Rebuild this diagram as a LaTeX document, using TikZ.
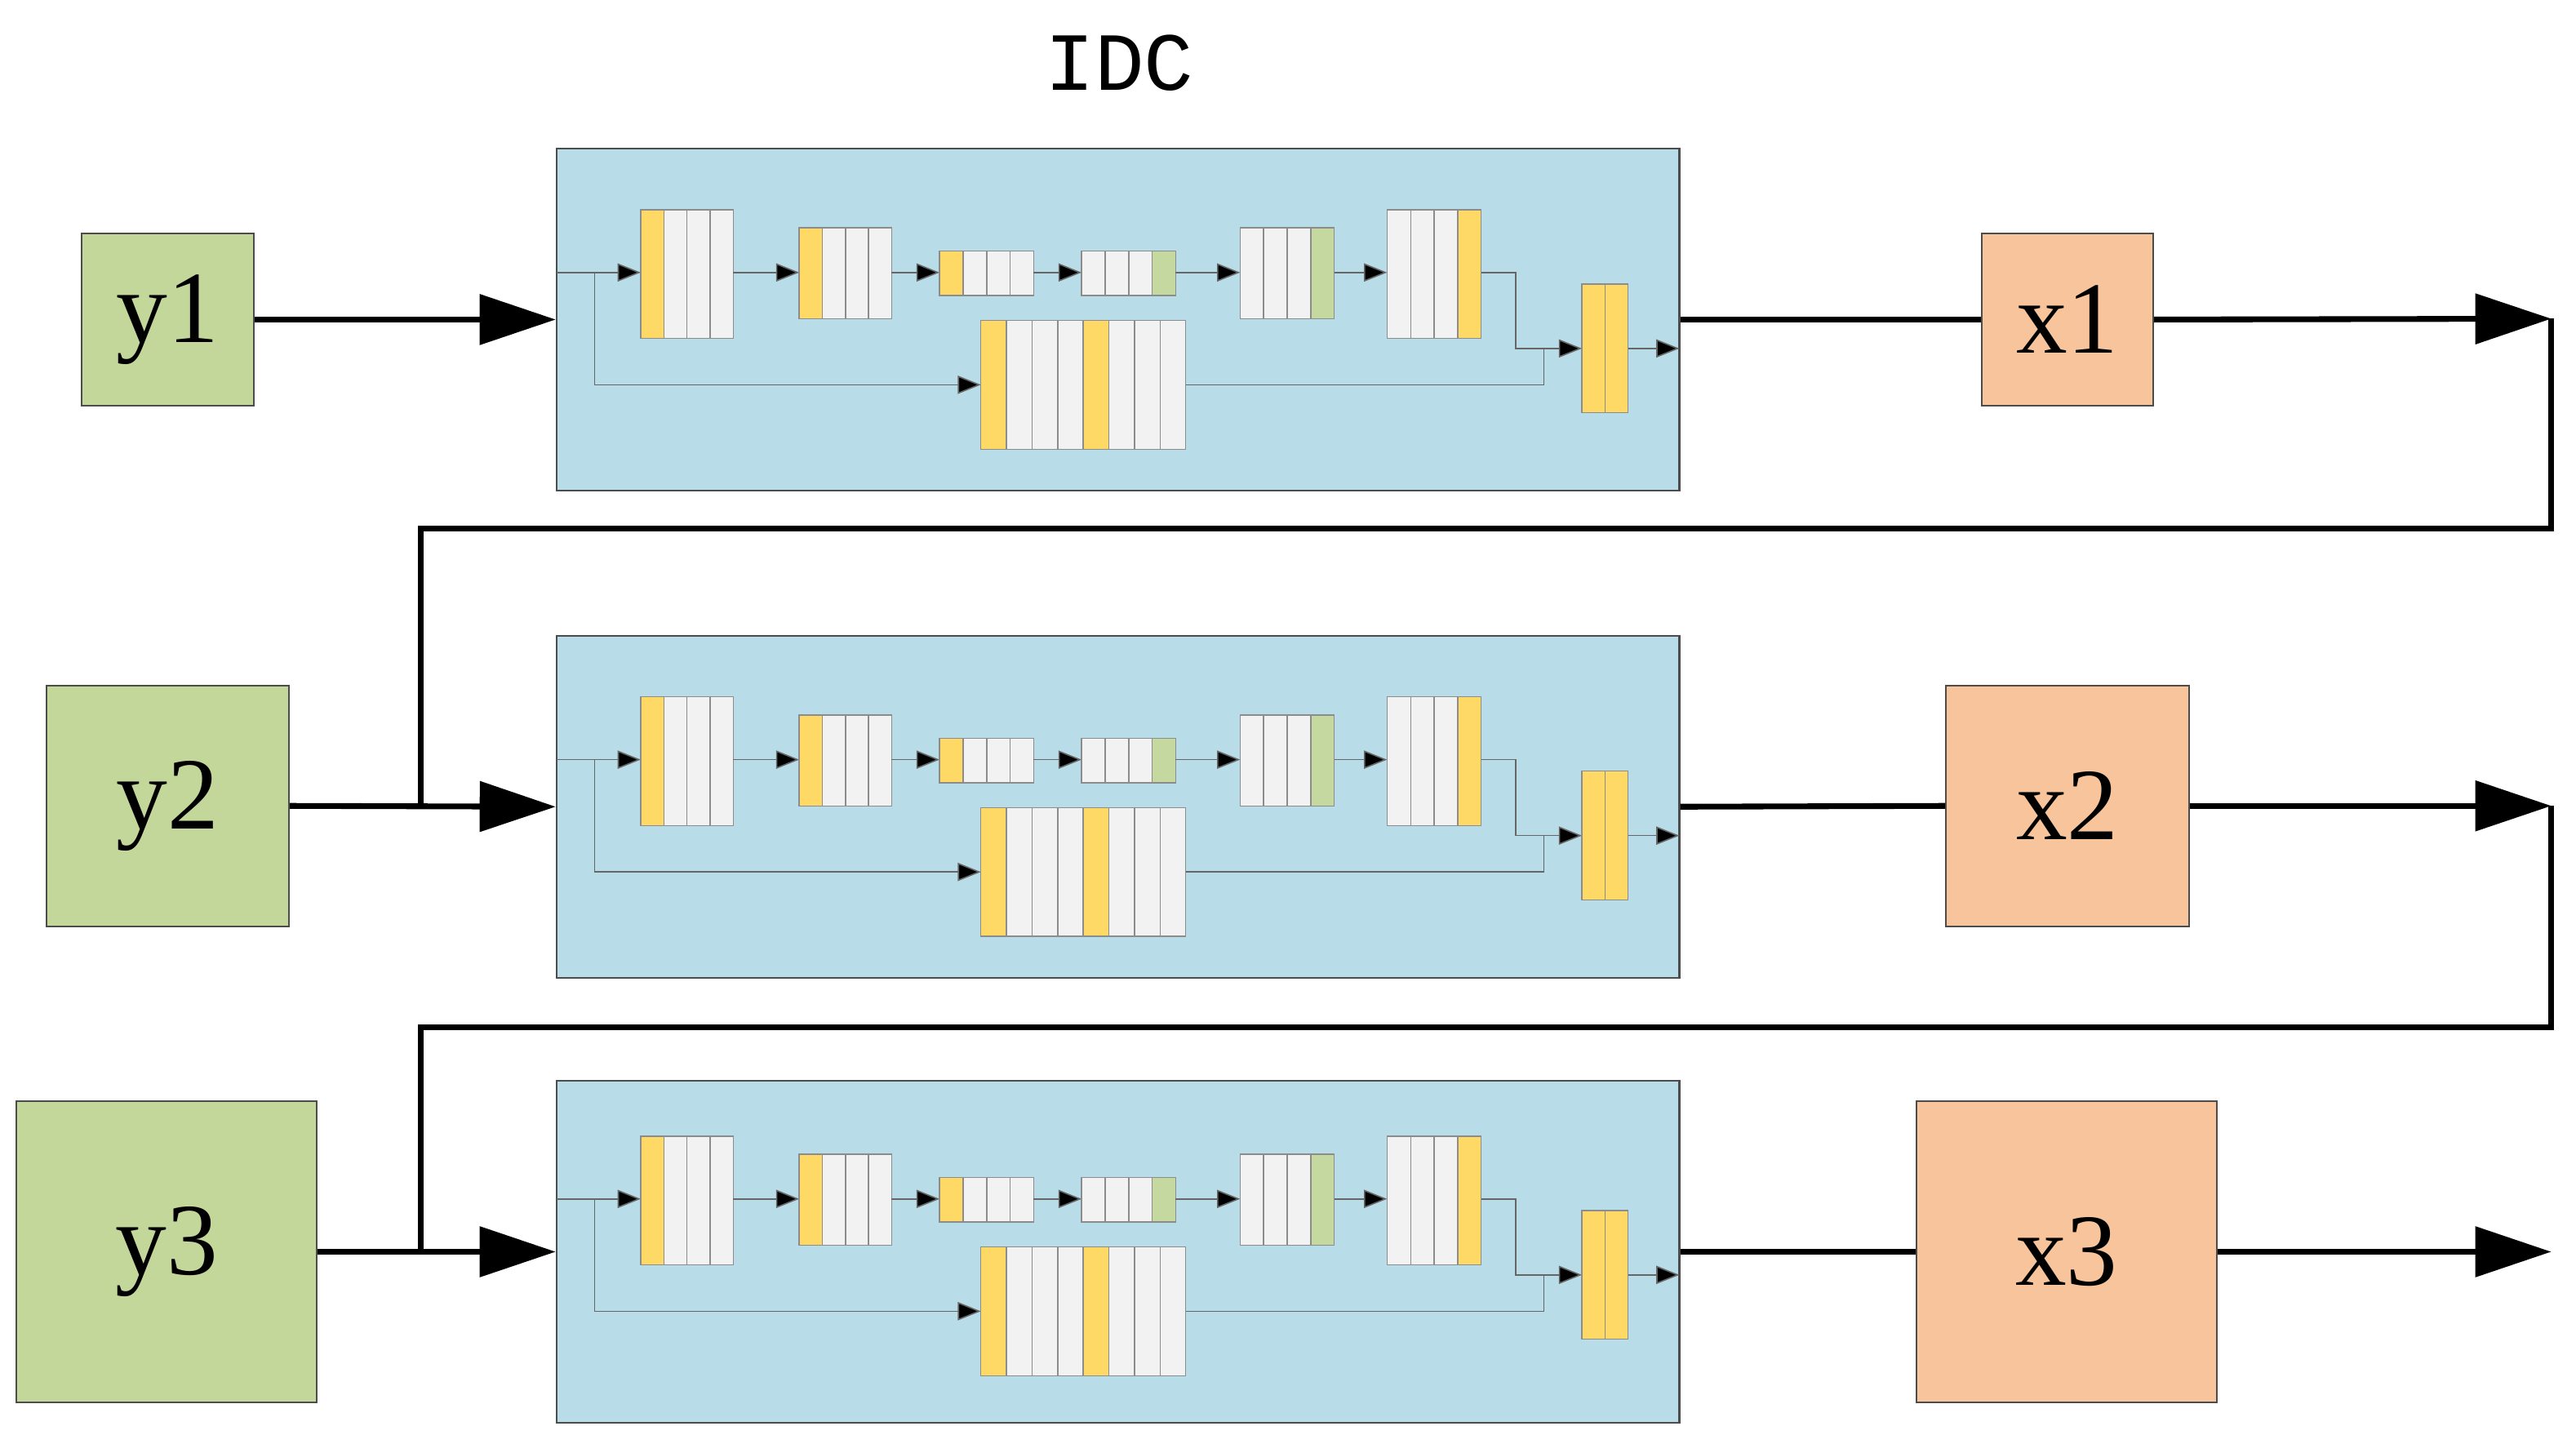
\documentclass[tikz,border=0pt]{standalone}
\usepackage{fontspec}
\setmainfont{Liberation Serif}
\newfontfamily\monofont{Liberation Mono}
\usetikzlibrary{arrows.meta}

\definecolor{blockblue}{HTML}{B8DDE8}
\definecolor{cellyellow}{HTML}{FFD966}
\definecolor{cellgreen}{HTML}{C5D8A0}
\definecolor{cellgrey}{HTML}{F2F2F2}
\definecolor{ygreen}{HTML}{C4D79B}
\definecolor{xorange}{HTML}{F8C49C}

\tikzset{
  blk/.style={draw=black!70,fill=blockblue,line width=1pt,minimum width=680pt,minimum height=207pt,inner sep=0pt},
  ybox/.style={draw=black!70,fill=ygreen,line width=1pt,inner sep=0pt,font=\fontsize{62}{62}\selectfont},
  xbox/.style={draw=black!70,fill=xorange,line width=1pt,inner sep=0pt,font=\fontsize{62}{62}\selectfont},
  main/.style={line width=3.5pt,-{Triangle[length=46pt,width=30pt]}},
  link/.style={line width=3.5pt},
  cell/.style={draw=black!45,line width=0.7pt},
  thin arrow/.style={draw=black!60,line width=0.8pt,-{Triangle[length=14pt,width=11pt,fill=black]}},
  thin line/.style={draw=black!60,line width=0.8pt}
}

% cells: x, ytop, ybottom, cell width, colours
\newcommand\cells[5]{%
  \foreach \c [count=\i from 0] in {#5}
    \filldraw[cell,fill=\c] ({#1+\i*#4},#2) rectangle ({#1+(\i+1)*#4},#3);
}

% inner network of one block, drawn from its upper left corner
\newcommand\idcnet[1]{%
  \begin{scope}[shift={(337,#1)}]
    \draw[thin arrow] (0,75)--(51,75);
    \draw[thin arrow] (23,75)|-(257,143);
    \cells{51}{37}{115}{14}{cellyellow,cellgrey,cellgrey,cellgrey}
    \draw[thin arrow] (107,75)--(147,75);
    \cells{147}{48}{103}{14}{cellyellow,cellgrey,cellgrey,cellgrey}
    \draw[thin arrow] (203,75)--(232,75);
    \cells{232}{62}{89}{14.25}{cellyellow,cellgrey,cellgrey,cellgrey}
    \draw[thin arrow] (289,75)--(318,75);
    \cells{318}{62}{89}{14.25}{cellgrey,cellgrey,cellgrey,cellgreen}
    \draw[thin arrow] (375,75)--(414,75);
    \cells{414}{48}{103}{14.25}{cellgrey,cellgrey,cellgrey,cellgreen}
    \draw[thin arrow] (471,75)--(503,75);
    \cells{503}{37}{115}{14.25}{cellgrey,cellgrey,cellgrey,cellyellow}
    \draw[thin arrow] (560,75)-|(581,121)--(621,121);
    \cells{257}{104}{182}{15.5}{cellyellow,cellgrey,cellgrey,cellgrey,cellyellow,cellgrey,cellgrey,cellgrey}
    \draw[thin line] (381,143)-|(598,121);
    \cells{621}{82}{160}{14}{cellyellow,cellyellow}
    \draw[thin arrow] (649,121)--(680,121);
  \end{scope}
}

\begin{document}
\begin{tikzpicture}[x=1pt,y=-1pt]
  \useasboundingbox (0,0) rectangle (1560,874);

  \node[font=\monofont\fontsize{50}{50}\selectfont] (title) at (678,38) {IDC};

  % blocks
  \node[blk] (b1) at (677,193.5) {};
  \node[blk] (b2) at (677,488.5) {};
  \node[blk] (b3) at (677,758) {};
  \idcnet{90}
  \idcnet{385}
  \idcnet{651}

  % inputs and outputs
  \node[ybox,minimum width=104pt,minimum height=104pt] (y1) at (101.5,193.5) {y1};
  \node[ybox,minimum width=147pt,minimum height=146pt] (y2) at (101.5,488) {y2};
  \node[ybox,minimum width=182pt,minimum height=182pt] (y3) at (101,758) {y3};
  \node[xbox,minimum width=104pt,minimum height=104pt] (x1) at (1252,193.5) {x1};
  \node[xbox,minimum width=147pt,minimum height=146pt] (x2) at (1252,488) {x2};
  \node[xbox,minimum width=182pt,minimum height=182pt] (x3) at (1251.5,758) {x3};

  \coordinate (o1) at (1545,193);
  \coordinate (o2) at (1545,488);
  \coordinate (o3) at (1545,758);
  \coordinate (j2) at (255,488);
  \coordinate (j3) at (255,758);

  \draw[main] (y1.east)--(b1.west);
  \draw[main] (y2.east)--(b2.west);
  \draw[main] (y3.east)--(b3.west);
  \draw[link] (b1.east)--(x1.west);
  \draw[link] (b2.east)--(x2.west);
  \draw[link] (b3.east)--(x3.west);
  \draw[main] (x1.east)--(o1);
  \draw[main] (x2.east)--(o2);
  \draw[main] (x3.east)--(o3);

  % feedback
  \draw[link,line join=miter] (o1)--(1545,320)--(255,320)--(j2);
  \draw[link,line join=miter] (o2)--(1545,622)--(255,622)--(j3);
\end{tikzpicture}
\end{document}
